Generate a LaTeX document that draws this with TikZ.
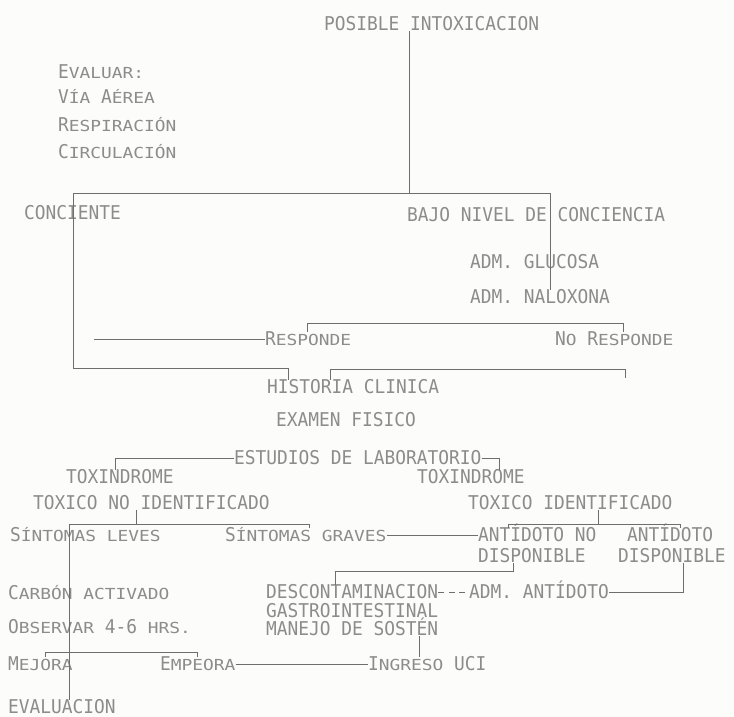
\documentclass[tikz,border=0pt]{standalone}
\usepackage{fontspec}
\setmonofont{DejaVu Sans Mono}[FakeStretch=0.94]
\newfontfamily\capfont{DejaVu Sans Mono}[FakeStretch=1.175]
\usepackage{tikz}
\usetikzlibrary{positioning}
\definecolor{paper}{RGB}{252,252,250}
\definecolor{inkgray}{RGB}{140,140,140}
\definecolor{rulegray}{RGB}{110,110,110}
\newcommand{\smc}[1]{{\capfont\fontsize{15.2}{17}\selectfont #1}}

\begin{document}
\begin{tikzpicture}[x=1pt, y=-1pt,
    txt/.style={anchor=west, inner sep=0pt, text=inkgray, font=\fontsize{19}{21}\ttfamily, text height=13.8pt, text depth=0pt},
    ln/.style={draw=rulegray, line width=1pt}
]
\useasboundingbox[fill=paper] (0,0) rectangle (734,717);

\node[txt] (posible) at (324,24) {POSIBLE INTOXICACION};
\node[txt] (ev1) at (58,72) {E\smc{VALUAR:}};
\node[txt] (ev2) at (58,97) {V\smc{ÍA} A\smc{ÉREA}};
\node[txt] (ev3) at (58,125) {R\smc{ESPIRACIÓN}};
\node[txt] (ev4) at (58,152) {C\smc{IRCULACIÓN}};
\node[txt] (conciente) at (24,213) {CONCIENTE};
\node[txt] (bajo) at (407,215) {BAJO NIVEL DE CONCIENCIA};
\node[txt] (glucosa) at (470,262) {ADM. GLUCOSA};
\node[txt] (naloxona) at (470,297) {ADM. NALOXONA};
\node[txt] (responde) at (265,339) {R\smc{ESPONDE}};
\node[txt] (noresp) at (555,339) {N\smc{O} R\smc{ESPONDE}};
\node[txt] (historia) at (267,387) {HISTORIA CLINICA};
\node[txt] (examen) at (276,420) {EXAMEN FISICO};
\node[txt] (estudios) at (234,458) {ESTUDIOS DE LABORATORIO};
\node[txt] (toxl) at (66,477) {TOXINDROME};
\node[txt] (toxr) at (417,477) {TOXINDROME};
\node[txt] (noident) at (33,503) {TOXICO NO IDENTIFICADO};
\node[txt] (ident) at (468,503) {TOXICO IDENTIFICADO};
\node[txt] (leves) at (10,535) {S\smc{ÍNTOMAS LEVES}};
\node[txt] (graves) at (225,535) {S\smc{ÍNTOMAS GRAVES}};
\node[txt] (antno) at (478,535) {ANTÍDOTO NO};
\node[txt] (antno2) at (478,556) {DISPONIBLE};
\node[txt] (antsi) at (627,535) {ANTÍDOTO};
\node[txt] (antsi2) at (618,556) {DISPONIBLE};
\node[txt] (carbon) at (8,593) {C\smc{ARBÓN ACTIVADO}};
\node[txt] (observar) at (8,627) {O\smc{BSERVAR} 4-6 \smc{HRS.}};
\node[txt] (descon) at (266,592) {DESCONTAMINACION};
\node[txt] (gastro) at (266,611) {GASTROINTESTINAL};
\node[txt] (manejo) at (266,629) {MANEJO DE SOSTÉN};
\node[txt] (admant) at (469,592) {ADM. ANTÍDOTO};
\node[txt] (mejora) at (8,664) {M\smc{EJORA}};
\node[txt] (empeora) at (160,664) {E\smc{MPEORA}};
\node[txt] (ingreso) at (368,664) {I\smc{NGRESO} UCI};
\node[txt] (evaluacion) at (8,707) {EVALUACION};

\draw[ln] (posible.south -| 409,0) -- (409,193);
\draw[ln] (historia.north -| 288,0) |- (73,368) -- (73,193) -- (550,193) -- (naloxona.north -| 550,0);
\draw[ln] (responde.north -| 307,0) |- (623,323) -- (noresp.north -| 623,0);
\draw[ln] (94,339) -- (responde.west);
\draw[ln] (historia.north -| 330,0) |- (625,369) -- (625,378);
\draw[ln] (toxl.north -| 115,0) |- (estudios.west);
\draw[ln] (estudios.east) -| (toxr.north -| 499,0);
\draw[ln] (noident.south -| 136,0) -- (136,524);
\draw[ln] (graves.north -| 309,0) |- (69,524) -- (evaluacion.north -| 69,0);
\draw[ln] (graves.east) -- (antno.west);
\draw[ln] (ident.south -| 598,0) -- (598,524);
\draw[ln] (antno.north -| 508,0) |- (680,524) -- (antsi.north -| 680,0);
\draw[ln] (antno2.south -| 513,0) |- (335,571) -- (descon.north -| 335,0);
\draw[ln] (antsi2.south -| 683,0) |- (admant.east);
\draw[ln, dash pattern=on 6pt off 4.5pt] (descon.east) -- (admant.west);
\draw[ln] (manejo.south -| 419,0) -- (ingreso.north -| 419,0);
\draw[ln] (mejora.north -| 45,0) |- (197,652) -- (empeora.north -| 197,0);
\draw[ln] (empeora.east) -- (ingreso.west);
\end{tikzpicture}
\end{document}
